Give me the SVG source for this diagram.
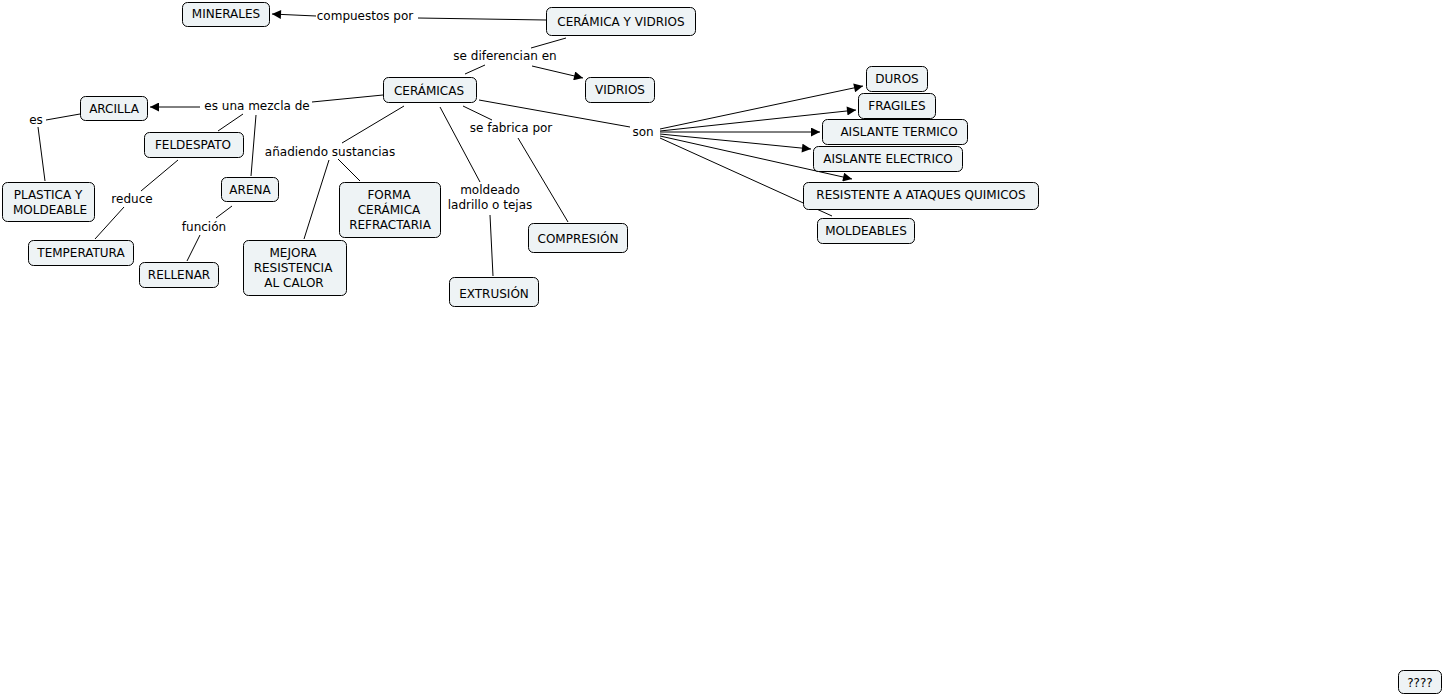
<svg xmlns="http://www.w3.org/2000/svg" width="1443" height="696" viewBox="0 0 1443 696">
<defs>
<style>
.n rect{fill:#eef3f5;stroke:#000;stroke-width:1}
text{font-family:"DejaVu Sans",Verdana,sans-serif;font-size:12px;fill:#000;text-anchor:middle}
.c line{stroke:#000;stroke-width:1}
.lab text{}
</style>
<marker id="a" viewBox="0 0 10 10" refX="10" refY="5" markerWidth="12" markerHeight="9" markerUnits="userSpaceOnUse" orient="auto"><path d="M0,0L10,5L0,10z" fill="#000"/></marker>
</defs>
<rect width="1443" height="696" fill="#fff"/>
<g class="c">
<line x1="546" y1="20" x2="418" y2="18"/>
<line x1="316" y1="16" x2="272" y2="14" marker-end="url(#a)"/>
<line x1="566" y1="38" x2="531" y2="48"/>
<line x1="485" y1="65" x2="465" y2="74"/>
<line x1="532" y1="66" x2="583" y2="78" marker-end="url(#a)"/>
<line x1="383" y1="95" x2="312" y2="102"/>
<line x1="200" y1="107" x2="150" y2="107" marker-end="url(#a)"/>
<line x1="243" y1="114" x2="218" y2="131"/>
<line x1="256" y1="115" x2="251" y2="176"/>
<line x1="80" y1="114" x2="46" y2="120"/>
<line x1="38" y1="127" x2="45" y2="181"/>
<line x1="178" y1="160" x2="141" y2="191"/>
<line x1="124" y1="207" x2="95" y2="239"/>
<line x1="232" y1="206" x2="216" y2="218"/>
<line x1="200" y1="235" x2="187" y2="261"/>
<line x1="404" y1="106" x2="342" y2="143"/>
<line x1="329" y1="160" x2="304" y2="239"/>
<line x1="338" y1="159" x2="360" y2="181"/>
<line x1="463" y1="106" x2="492" y2="120"/>
<line x1="518" y1="138" x2="568" y2="222"/>
<line x1="440" y1="107" x2="480" y2="182"/>
<line x1="490" y1="215" x2="493" y2="276"/>
<line x1="479" y1="100" x2="630" y2="127"/>
<line x1="660" y1="129" x2="863" y2="86" marker-end="url(#a)"/>
<line x1="660" y1="131" x2="856" y2="110" marker-end="url(#a)"/>
<line x1="660" y1="132" x2="820" y2="132" marker-end="url(#a)"/>
<line x1="660" y1="134" x2="811" y2="149" marker-end="url(#a)"/>
<line x1="660" y1="136" x2="852" y2="179" marker-end="url(#a)"/>
<line x1="660" y1="138" x2="832" y2="216"/>
</g>
<g class="lab">
<text x="365" y="20">compuestos por</text>
<text x="505" y="60">se diferencian en</text>
<text x="257" y="110">es una mezcla de</text>
<text x="36" y="124">es</text>
<text x="132" y="203">reduce</text>
<text x="204" y="231">función</text>
<text x="330" y="156">añadiendo sustancias</text>
<text x="511" y="132">se fabrica por</text>
<text x="490" y="194">moldeado</text>
<text x="490" y="209">ladrillo o tejas</text>
<text x="643" y="136">son</text>
</g>
<g id="minerales" class="n"><rect x="182.5" y="2.5" width="87" height="24" rx="5"/><text x="226" y="18">MINERALES</text></g>
<g id="ceramica-vidrios" class="n"><rect x="546.5" y="7.5" width="149" height="28" rx="5"/><text x="621" y="26">CERÁMICA Y VIDRIOS</text></g>
<g id="vidrios" class="n"><rect x="585.5" y="77.5" width="69" height="25" rx="5"/><text x="620" y="94">VIDRIOS</text></g>
<g id="ceramicas" class="n"><rect x="383.5" y="77.5" width="93" height="25" rx="5"/><text x="429" y="95">CERÁMICAS</text></g>
<g id="arcilla" class="n"><rect x="80.5" y="96.5" width="67" height="24" rx="5"/><text x="114" y="113">ARCILLA</text></g>
<g id="feldespato" class="n"><rect x="144.5" y="132.5" width="99" height="25" rx="5"/><text x="193" y="149">FELDESPATO</text></g>
<g id="arena" class="n"><rect x="221.5" y="177.5" width="57" height="24" rx="5"/><text x="250" y="194">ARENA</text></g>
<g id="plastica" class="n"><rect x="2.5" y="182.5" width="92" height="39" rx="5"/><text x="48" y="199">PLASTICA Y</text><text x="50" y="214">MOLDEABLE</text></g>
<g id="temperatura" class="n"><rect x="28.5" y="240.5" width="105" height="25" rx="5"/><text x="81" y="257">TEMPERATURA</text></g>
<g id="rellenar" class="n"><rect x="139.5" y="262.5" width="79" height="25" rx="5"/><text x="179" y="279">RELLENAR</text></g>
<g id="mejora" class="n"><rect x="243.5" y="240.5" width="103" height="55" rx="5"/><text x="293" y="257">MEJORA</text><text x="293" y="272">RESISTENCIA</text><text x="294" y="287">AL CALOR</text></g>
<g id="forma" class="n"><rect x="339.5" y="182.5" width="101" height="55" rx="5"/><text x="389" y="199">FORMA</text><text x="389" y="214">CERÁMICA</text><text x="390" y="229">REFRACTARIA</text></g>
<g id="extrusion" class="n"><rect x="449.5" y="277.5" width="89" height="29" rx="5"/><text x="494" y="298">EXTRUSIÓN</text></g>
<g id="compresion" class="n"><rect x="528.5" y="223.5" width="99" height="29" rx="5"/><text x="578" y="243">COMPRESIÓN</text></g>
<g id="duros" class="n"><rect x="866.5" y="66.5" width="61" height="25" rx="5"/><text x="897" y="83">DUROS</text></g>
<g id="fragiles" class="n"><rect x="858.5" y="93.5" width="77" height="25" rx="5"/><text x="897" y="110">FRAGILES</text></g>
<g id="aislante-termico" class="n"><rect x="822.5" y="119.5" width="145" height="25" rx="5"/><text x="899" y="136">AISLANTE TERMICO</text></g>
<g id="aislante-electrico" class="n"><rect x="813.5" y="146.5" width="149" height="25" rx="5"/><text x="888" y="163">AISLANTE ELECTRICO</text></g>
<g id="resistente" class="n"><rect x="803.5" y="182.5" width="235" height="27" rx="5"/><text x="921" y="199">RESISTENTE A ATAQUES QUIMICOS</text></g>
<g id="moldeables" class="n"><rect x="817.5" y="218.5" width="97" height="25" rx="5"/><text x="866" y="235">MOLDEABLES</text></g>
<g id="q" class="n"><rect x="1398.5" y="670.5" width="43" height="23" rx="5"/><text x="1420" y="687">????</text></g>
</svg>
